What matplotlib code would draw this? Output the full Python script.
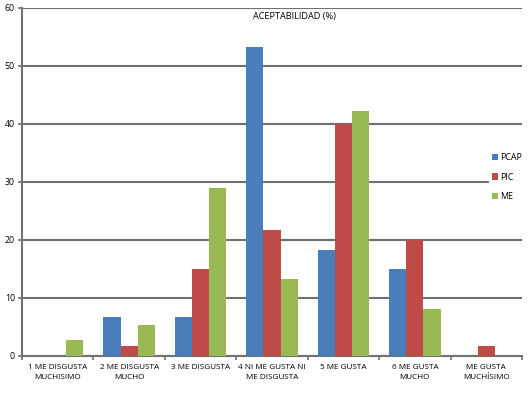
import numpy as np
import matplotlib.pyplot as plt

categorias = ['1 ME DISGUSTA\nMUCHISIMO', '2 ME DISGUSTA\nMUCHO', '3 ME DISGUSTA',
              '4 NI ME GUSTA NI\nME DISGUSTA', '5 ME GUSTA', '6 ME GUSTA\nMUCHO',
              'ME GUSTA\nMUCHÍSIMO']
pcap = [0, 6.7, 6.7, 53.3, 18.3, 15.0, 0]
pic = [0, 1.7, 15.0, 21.7, 40.0, 20.0, 1.7]
me = [2.7, 5.3, 28.9, 13.3, 42.2, 8.0, 0]
series = ['PCAP', 'PIC', 'ME']
colores = ['#4a7ebb', '#be4b48', '#98b954']

plt.rcParams['font.family'] = ['Open Sans', 'DejaVu Sans']

fig = plt.figure(figsize=(5.32, 3.93), dpi=100)
ax = fig.add_axes([22/532, 1-355.7/393, 500/532, 348/393])

x = np.arange(len(categorias))
w = 0.24
for i, (nombre, vals) in enumerate(zip(series, [pcap, pic, me])):
    ax.bar(x + w*(i-1), vals, w, color=colores[i], label=nombre, zorder=3)

ax.set_xlim(-0.5, len(categorias)-0.5)
ax.set_ylim(0, 60)
ax.set_yticks(range(0, 61, 10))
ax.yaxis.grid(True, color='#707070', linewidth=1.5, zorder=0)
ax.set_axisbelow(True)

ax.set_xticks(x)
ax.set_xticklabels(categorias, fontsize=5.9, linespacing=1.5)
ax.set_xticks(np.arange(-0.5, len(categorias)), minor=True)
ax.tick_params(axis='x', which='major', length=0, pad=6)
ax.tick_params(axis='x', which='minor', length=3, color='#707070', width=1.2)
ax.tick_params(axis='y', labelsize=6.3, length=3, color='#707070', width=1.2, pad=2)

for s in ['top', 'right']:
    ax.spines[s].set_visible(False)
for s in ['left', 'bottom']:
    ax.spines[s].set_color('#707070')
    ax.spines[s].set_linewidth(1.5)

ax.text(0.544, 0.975, 'ACEPTABILIDAD (%)', transform=ax.transAxes,
        fontsize=6.6, ha='center', va='center')

leg = ax.legend(loc='center left', bbox_to_anchor=(0.925, 0.513), frameon=True,
                fontsize=6.4, handlelength=0.7, handleheight=0.7, handletextpad=0.3,
                labelspacing=1.2, borderpad=0.3)
leg.get_frame().set_edgecolor('none')
leg.get_frame().set_facecolor('white')
leg.get_frame().set_alpha(1)

fig.savefig('out.png', dpi=100)
